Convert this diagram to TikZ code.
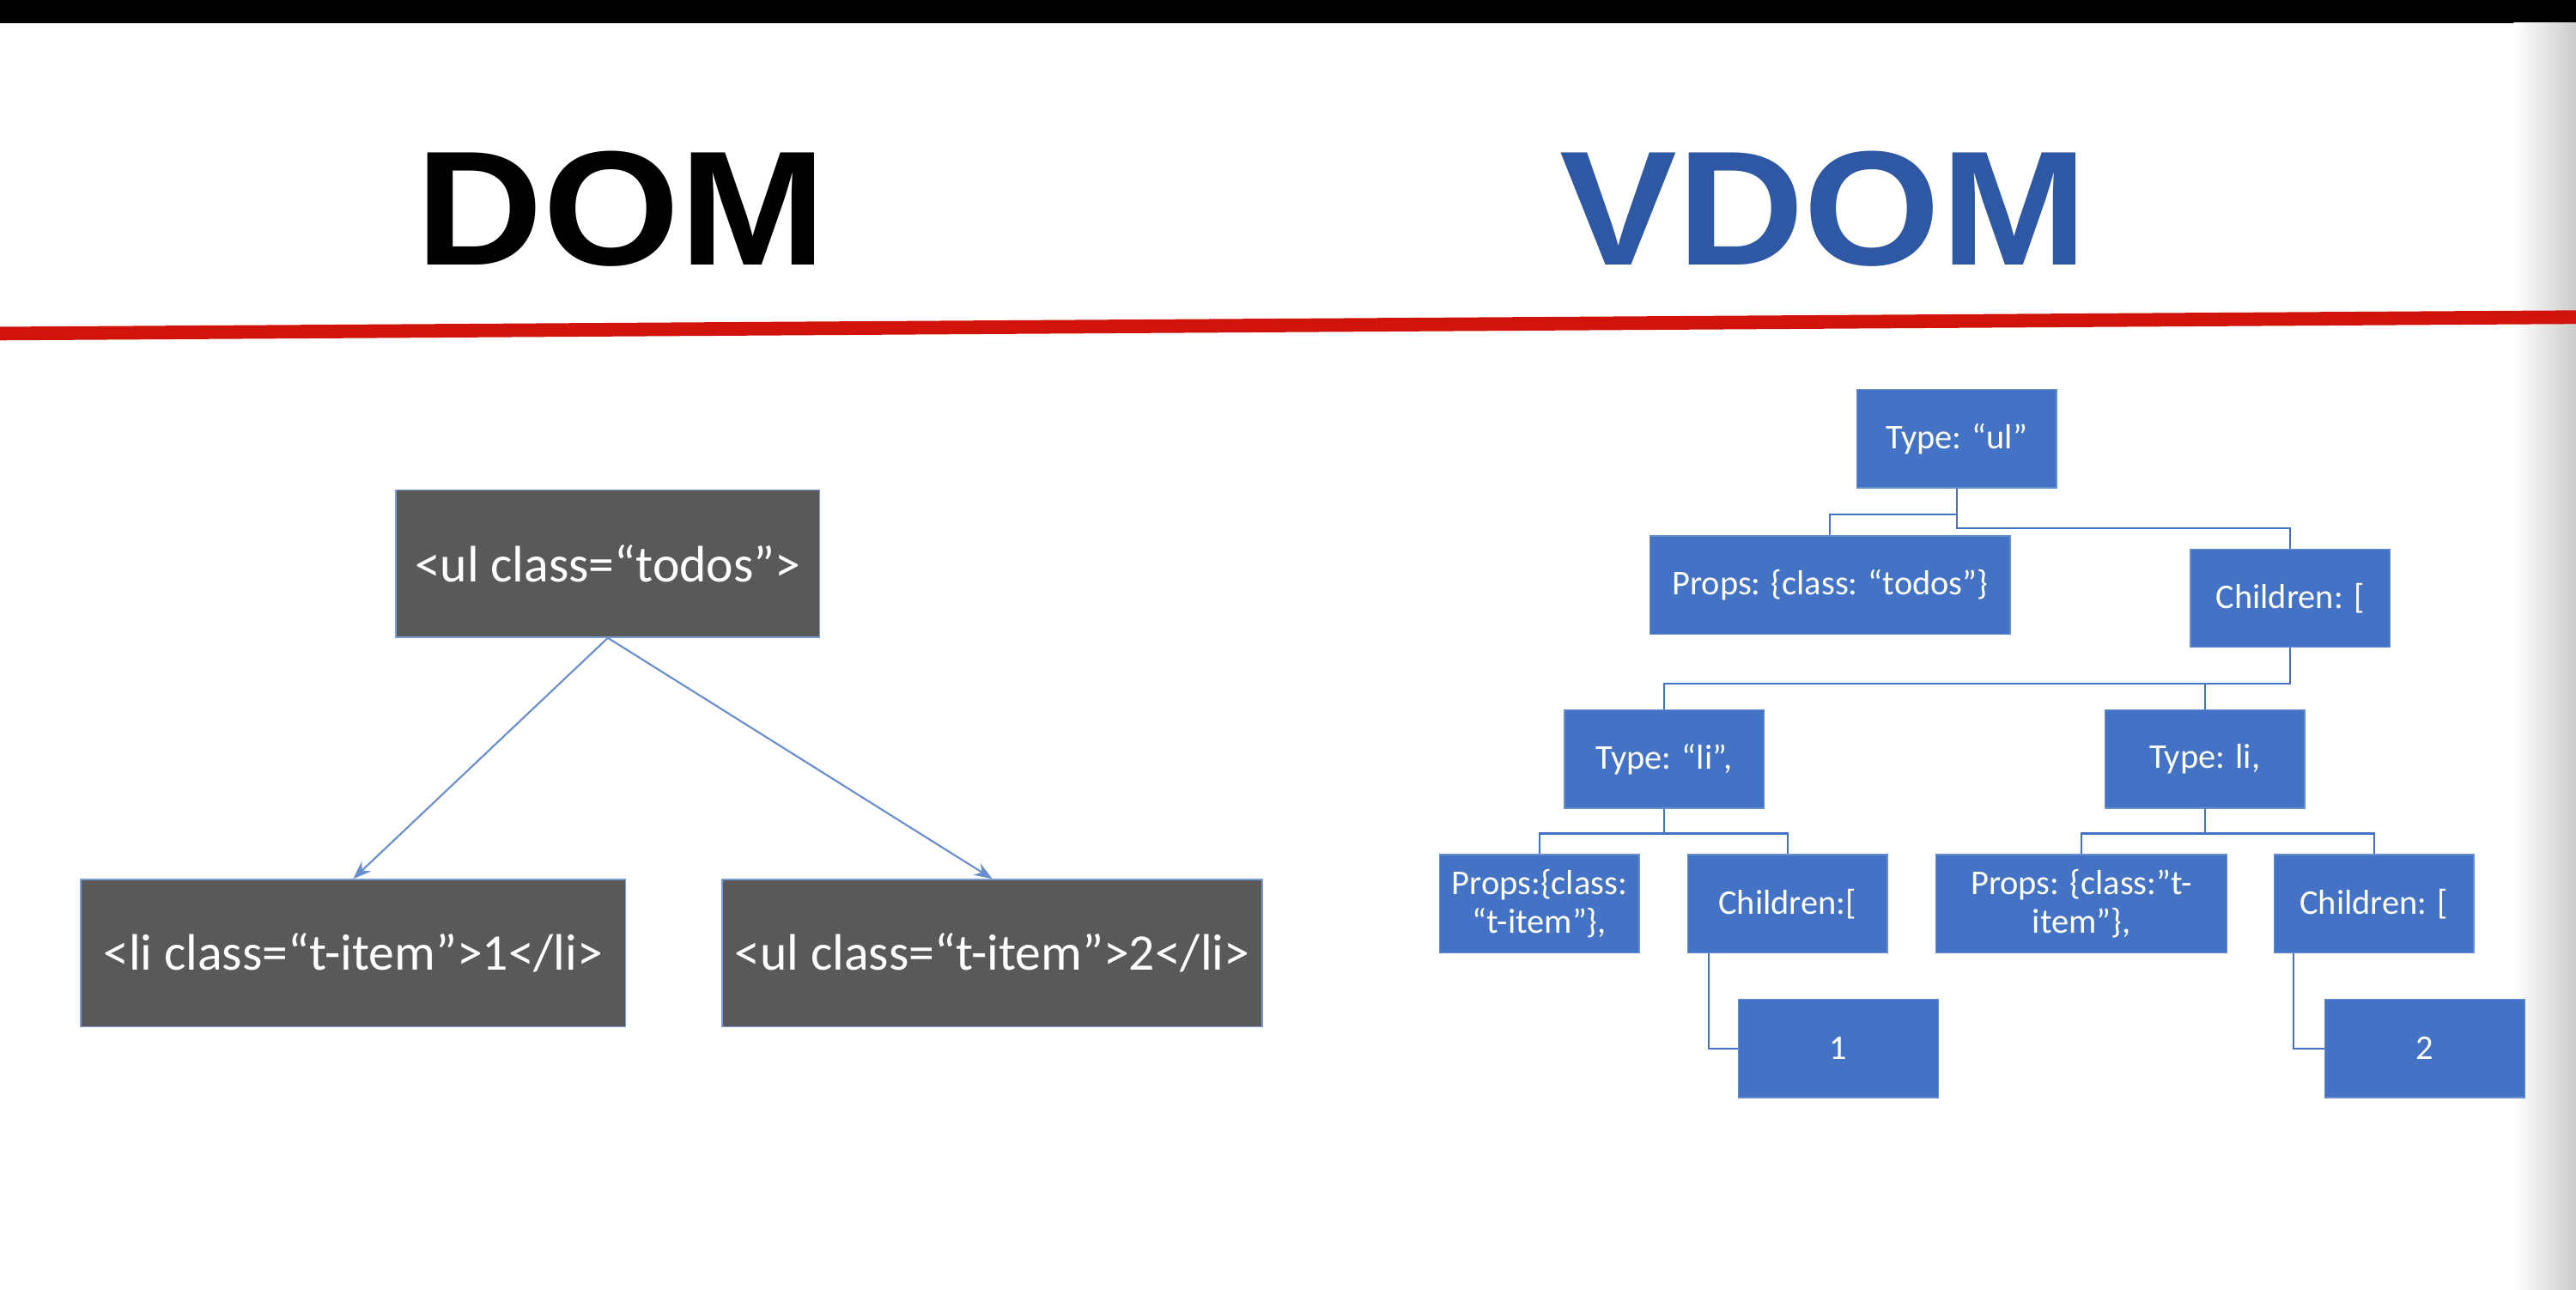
\documentclass[tikz,border=0pt]{standalone}
\usepackage{fontspec}
\setmainfont{Carlito}
\newfontfamily\headfont{Liberation Sans}
\usetikzlibrary{arrows.meta,positioning}
\definecolor{domgray}{HTML}{595959}
\definecolor{vblue}{HTML}{4472C4}
\definecolor{headblue}{HTML}{2E58A3}
\definecolor{barred}{HTML}{D0140C}
\def\px{0.5423pt}
\tikzset{
  domnode/.style={draw=vblue!70, fill=domgray, text=white, minimum height=90*\px, inner sep=0pt,
    font=\fontsize{17}{20}\selectfont},
  vnode/.style={fill=vblue, draw=vblue!80!white, text=white, minimum width=122*\px, minimum height=60*\px,
    inner sep=1pt, align=center, font=\fontsize{11.5}{13}\selectfont},
  link/.style={draw=vblue, line width=0.6pt},
  heading/.style={font=\headfont\bfseries\fontsize{54}{56}\selectfont, xscale=1.08}
}
\begin{document}
\begin{tikzpicture}[x=0.01913cm, y=-0.01913cm]
\useasboundingbox (0,0) rectangle (1568,785);
% frame
\fill[white] (0,0) rectangle (1568,785);
\fill[black] (0,0) rectangle (1568,14);
\shade[left color=white, right color=black!20] (1530,14) rectangle (1568,785);
\draw[barred, line width=4.5pt] (0,203) -- (1568,193);
% headings
\node[heading, text=black] (domtitle) at (378,127) {DOM};
\node[heading, text=headblue] (vdomtitle) at (1110,127) {VDOM};

% DOM tree
\node[domnode, minimum width=259*\px] (ul) at (370,343) {<ul class=“todos”>};
\node[domnode, minimum width=333*\px] (li1) at (215,580) {<li class=“t-item”>1</li>};
\node[domnode, minimum width=330*\px] (li2) at (604,580) {<ul class=“t-item”>2</li>};
\draw[-{Stealth[length=6pt]}, vblue!80, line width=0.6pt] (ul.south) -- (li1.north);
\draw[-{Stealth[length=6pt]}, vblue!80, line width=0.6pt] (ul.south) -- (li2.north);

% VDOM tree
\node[vnode] (type) at (1191,267) {Type: “ul”};
\node[vnode, minimum width=220*\px] (props) at (1114,356) {Props: \{class: “todos”\}};
\node[vnode] (children) at (1394,364) {Children: [};
\node[vnode] (typeA) at (1013,462) {Type: “li”,};
\node[vnode] (typeB) at (1342,462) {Type: li,};
\node[vnode] (propsA) at (937,550) {Props:\{class:\\“t-item”\},};
\node[vnode] (childA) at (1088,550) {Children:[};
\node[vnode, minimum width=178*\px] (propsB) at (1267,550) {Props: \{class:”t-\\item”\},};
\node[vnode] (childB) at (1445,550) {Children: [};
\node[vnode] (one) at (1119,638) {1};
\node[vnode] (two) at (1476,638) {2};

\draw[link] (type.south) -- ++(0,16) -| (props.north);
\draw[link] (type.south) -- ++(0,24) -| (children.north);
\draw[link] (children.south) -- ++(0,22) -| (typeA.north);
\draw[link] (children.south) -- ++(0,22) -| (typeB.north);
\draw[link] (typeA.south) -- ++(0,15) -| (propsA.north);
\draw[link] (typeA.south) -- ++(0,15) -| (childA.north);
\draw[link] (typeB.south) -- ++(0,15) -| (propsB.north);
\draw[link] (typeB.south) -- ++(0,15) -| (childB.north);
\draw[link] ([xshift=-48*\px]childA.south) |- (one.west);
\draw[link] ([xshift=-49*\px]childB.south) |- (two.west);
\end{tikzpicture}
\end{document}
